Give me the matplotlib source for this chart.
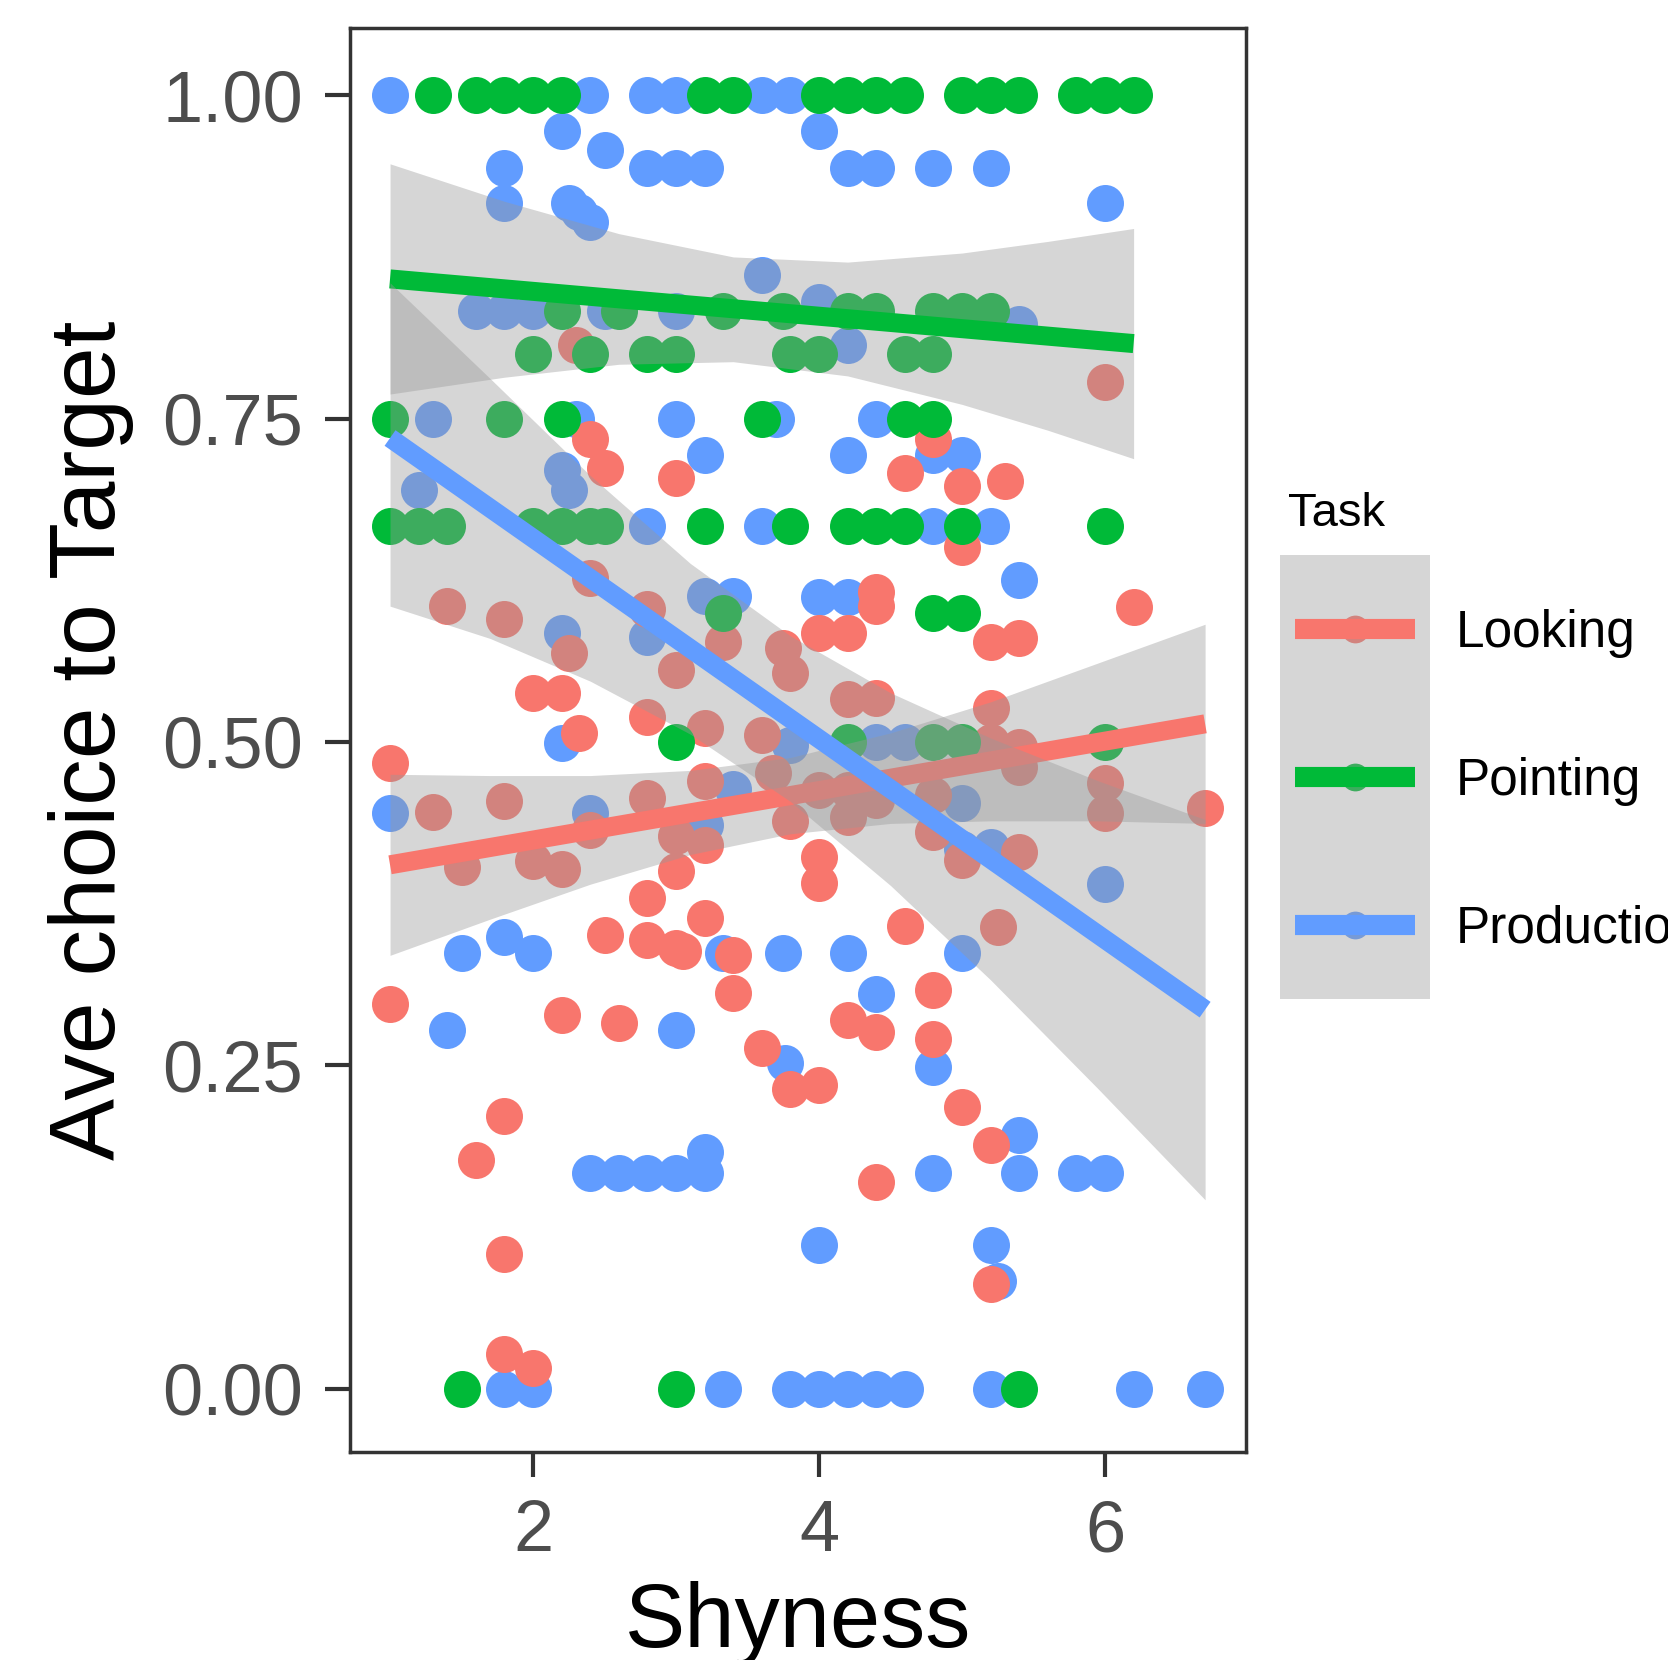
import matplotlib
matplotlib.use("Agg")
import matplotlib.pyplot as plt
from matplotlib.lines import Line2D
from matplotlib.patches import Rectangle

plt.rcParams["font.family"] = ["Liberation Sans", "DejaVu Sans"]

W, H = 1668, 1660

tasks = ["Looking", "Pointing", "Production"]
colors = ["#F8766D", "#00BA38", "#619CFF"]

# Looking: continuous proportions
looking_x = [2.3, 2.4, 2.5, 3.0, 4.6, 5.0, 5.3, 4.8, 5.0, 4.4, 4.4, 6.2, 5.2, 5.4,
             4.0, 4.2, 1.4, 1.8, 2.25, 2.0, 2.2, 2.32, 2.4, 2.8, 3.0, 2.8, 3.2, 3.33,
             3.75, 3.8, 4.2, 4.4, 5.2, 5.2, 5.4, 5.4, 3.6, 1.0, 1.3, 1.8, 1.5, 2.0,
             2.2, 2.4, 2.8, 3.0, 3.0, 3.2, 3.2, 3.68, 3.8, 4.0, 4.2, 4.2, 4.4, 4.0,
             4.0, 4.8, 4.8, 5.0, 5.4, 6.0, 6.0, 6.7, 2.8, 2.5, 2.8, 3.0, 3.05, 3.2,
             3.4, 4.6, 5.25, 1.0, 2.2, 2.6, 3.4, 3.6, 3.8, 4.0, 1.8, 1.6, 1.8, 1.8,
             2.0, 4.8, 4.2, 4.4, 4.8, 5.0, 5.2, 4.4, 5.2, 6.0]
looking_y = [0.807, 0.734, 0.712, 0.704, 0.708, 0.698, 0.702, 0.734, 0.651, 0.616,
             0.605, 0.604, 0.577, 0.580, 0.584, 0.584, 0.605, 0.595, 0.569, 0.538,
             0.538, 0.507, 0.627, 0.603, 0.556, 0.519, 0.511, 0.577, 0.573, 0.553,
             0.533, 0.534, 0.526, 0.500, 0.496, 0.481, 0.505, 0.484, 0.446, 0.454,
             0.403, 0.408, 0.402, 0.432, 0.457, 0.427, 0.400, 0.420, 0.470, 0.476,
             0.439, 0.463, 0.463, 0.442, 0.455, 0.411, 0.391, 0.459, 0.430, 0.409,
             0.415, 0.468, 0.445, 0.449, 0.379, 0.351, 0.347, 0.341, 0.338, 0.364,
             0.335, 0.358, 0.357, 0.297, 0.289, 0.283, 0.306, 0.263, 0.232, 0.235,
             0.211, 0.177, 0.104, 0.027, 0.016, 0.308, 0.285, 0.276, 0.270, 0.218,
             0.188, 0.160, 0.081, 0.778]

pointing_x = [1.3, 1.6, 1.8, 2.0, 2.2, 3.2, 3.4, 4.0, 4.2, 4.4, 4.6, 5.0, 5.2, 5.4,
              5.8, 6.0, 6.2,
              2.2, 2.6, 3.33, 3.75, 4.2, 4.4, 4.8, 5.0, 5.2,
              2.0, 2.4, 2.8, 3.0, 3.8, 4.0, 4.6, 4.8,
              1.0, 1.8, 2.2, 3.6, 4.6, 4.8,
              1.0, 1.2, 1.4, 2.0, 2.2, 2.4, 2.5, 3.2, 3.8, 4.2, 4.4, 4.6, 5.0, 6.0,
              3.33, 4.8, 5.0,
              3.0, 4.2, 4.8, 5.0, 6.0,
              1.5, 3.0, 5.4]
pointing_y = [1.0] * 17 + [0.833] * 9 + [0.8] * 8 + [0.75] * 6 + [0.667] * 14 \
    + [0.6] * 3 + [0.5] * 5 + [0.0] * 3

production_x = [1.0, 2.4, 2.8, 3.0, 3.6, 3.8, 2.2, 4.0, 2.5, 1.8, 2.8, 3.0, 3.2,
                4.2, 4.4, 4.8, 5.2, 6.0, 1.8, 2.25, 2.32, 2.4, 3.6, 1.6, 1.8, 2.0,
                2.5, 3.0, 4.0, 5.4, 4.2, 1.3, 2.3, 3.0, 3.7, 4.4, 3.2, 4.2, 4.8,
                5.0, 1.2, 2.2, 2.25, 2.8, 3.6, 4.8, 5.2, 5.4, 3.2, 3.4, 4.0, 4.2,
                2.2, 2.8, 2.2, 3.8, 4.4, 4.6, 1.0, 2.4, 3.2, 3.4, 5.0, 5.2, 5.0,
                6.0, 1.5, 1.8, 2.0, 3.33, 3.75, 4.2, 5.0, 4.4, 1.4, 3.0, 3.76, 4.8,
                5.4, 3.2, 2.4, 2.6, 2.8, 3.0, 3.2, 4.8, 5.4, 5.8, 6.0, 4.0, 5.2,
                5.25, 1.8, 2.0, 3.33, 3.8, 4.0, 4.2, 4.4, 4.6, 5.2, 6.2, 6.7]
production_y = [1.0, 1.0, 1.0, 1.0, 1.0, 1.0, 0.972, 0.972, 0.958, 0.944, 0.944,
                0.944, 0.944, 0.944, 0.944, 0.944, 0.944, 0.917, 0.917, 0.917,
                0.910, 0.902, 0.861, 0.833, 0.833, 0.833, 0.833, 0.833, 0.840,
                0.823, 0.807, 0.75, 0.75, 0.75, 0.75, 0.75, 0.722, 0.722, 0.722,
                0.722, 0.695, 0.710, 0.695, 0.667, 0.667, 0.667, 0.667, 0.625,
                0.613, 0.613, 0.612, 0.612, 0.584, 0.581, 0.499, 0.498, 0.5, 0.5,
                0.445, 0.445, 0.436, 0.464, 0.453, 0.419, 0.417, 0.390, 0.337,
                0.349, 0.337, 0.337, 0.337, 0.337, 0.337, 0.305, 0.277, 0.277,
                0.252, 0.249, 0.196, 0.183, 0.1667, 0.1667, 0.1667, 0.1667,
                0.1667, 0.1667, 0.1667, 0.1667, 0.1667, 0.111, 0.111, 0.083,
                0.0, 0.0, 0.0, 0.0, 0.0, 0.0, 0.0, 0.0, 0.0, 0.0, 0.0]

# fitted lines (lm) and their 95% bands
fit_x = [[1.0, 6.7], [1.0, 6.2], [1.0, 6.7]]
fit_y = [[0.405, 0.514], [0.858, 0.808], [0.735, 0.293]]

band_x = [[1.0, 1.7, 2.4, 3.1, 3.8, 4.5, 5.2, 5.95, 6.7],
          [1.0, 1.8, 2.6, 3.4, 4.2, 5.0, 5.6, 6.2],
          [1.0, 1.7, 2.4, 3.1, 3.8, 4.5, 5.2, 5.95, 6.7]]
band_lo = [[0.335, 0.363, 0.390, 0.413, 0.429, 0.437, 0.439, 0.439, 0.437],
           [0.769, 0.782, 0.792, 0.794, 0.783, 0.761, 0.741, 0.719],
           [0.605, 0.580, 0.547, 0.506, 0.454, 0.389, 0.316, 0.232, 0.146]]
band_hi = [[0.475, 0.474, 0.474, 0.478, 0.488, 0.507, 0.531, 0.561, 0.591],
           [0.947, 0.918, 0.893, 0.875, 0.871, 0.878, 0.887, 0.897],
           [0.855, 0.781, 0.706, 0.638, 0.582, 0.538, 0.503, 0.470, 0.440]]


class KeyHandler:
    """ggplot-style key: point, then grey band over it, then the line."""

    def __init__(self, color):
        self.color = color

    def legend_artist(self, legend, orig_handle, fontsize, handlebox):
        x0, y0 = -handlebox.xdescent, -handlebox.ydescent
        w, h = handlebox.width, handlebox.height
        cy = y0 + h / 2
        pad = 11
        dot = Line2D([x0 + w / 2], [cy], ls="none", marker="o", ms=20,
                     mfc=self.color, mec="none")
        bg = Rectangle((x0, y0), w, h, facecolor="#999999", alpha=0.4,
                       edgecolor="none")
        ln = Line2D([x0 + pad, x0 + w - pad], [cy, cy], color=self.color,
                    lw=14.5, solid_capstyle="butt")
        for a in (dot, bg, ln):
            a.set_transform(handlebox.get_transform())
            handlebox.add_artist(a)
        return ln


fig = plt.figure(figsize=(W / 100, H / 100), dpi=100)
ax = fig.add_axes([350 / W, 1 - 1452 / H, 896 / W, 1424 / H])

pt_size = 710
ax.scatter(production_x, production_y, s=pt_size, color=colors[2], lw=0, zorder=1)
ax.scatter(looking_x, looking_y, s=pt_size, color=colors[0], lw=0, zorder=1)
ax.scatter(pointing_x, pointing_y, s=pt_size, color=colors[1], lw=0, zorder=1)

for i in range(3):
    ax.fill_between(band_x[i], band_lo[i], band_hi[i], color="#999999", alpha=0.4,
                    lw=0, zorder=2 + 2 * i)
    ax.plot(fit_x[i], fit_y[i], color=colors[i], lw=13.7, solid_capstyle="butt",
            zorder=3 + 2 * i)

ax.set_xlim(0.720, 6.986)
ax.set_ylim(-0.049, 1.052)
ax.set_xticks([2, 4, 6])
ax.set_yticks([0, 0.25, 0.5, 0.75, 1.0])
ax.set_yticklabels(["0.00", "0.25", "0.50", "0.75", "1.00"])
ax.tick_params(length=18, width=3, color="#333333", labelcolor="#4D4D4D",
               labelsize=52, pad=16)
for sp in ax.spines.values():
    sp.set_color("#333333")
    sp.set_linewidth(2.5)

fig.text(115 / W, 1 - 740 / H, "Ave choice to Target", fontsize=67, rotation=90,
         ha="center", va="baseline", rotation_mode="anchor")
fig.text(798 / W, 1 - 1647 / H, "Shyness", fontsize=65, ha="center", va="baseline")

keys = [Line2D([], [], color=c) for c in colors]
hmap = {k: KeyHandler(c) for k, c in zip(keys, colors)}
leg = fig.legend(keys, tasks, handler_map=hmap, loc="upper left",
                 bbox_to_anchor=(1280 / W, 1 - 555 / H), frameon=False,
                 fontsize=37, handlelength=2.92, handleheight=4.054,
                 labelspacing=0, handletextpad=0.5, borderpad=0, borderaxespad=0)
for t in leg.get_texts():
    t.set_y(-4)

fig.text(1288 / W, 1 - 526 / H, "Task", fontsize=34, ha="left", va="baseline")

fig.savefig("out.png", dpi=100)
